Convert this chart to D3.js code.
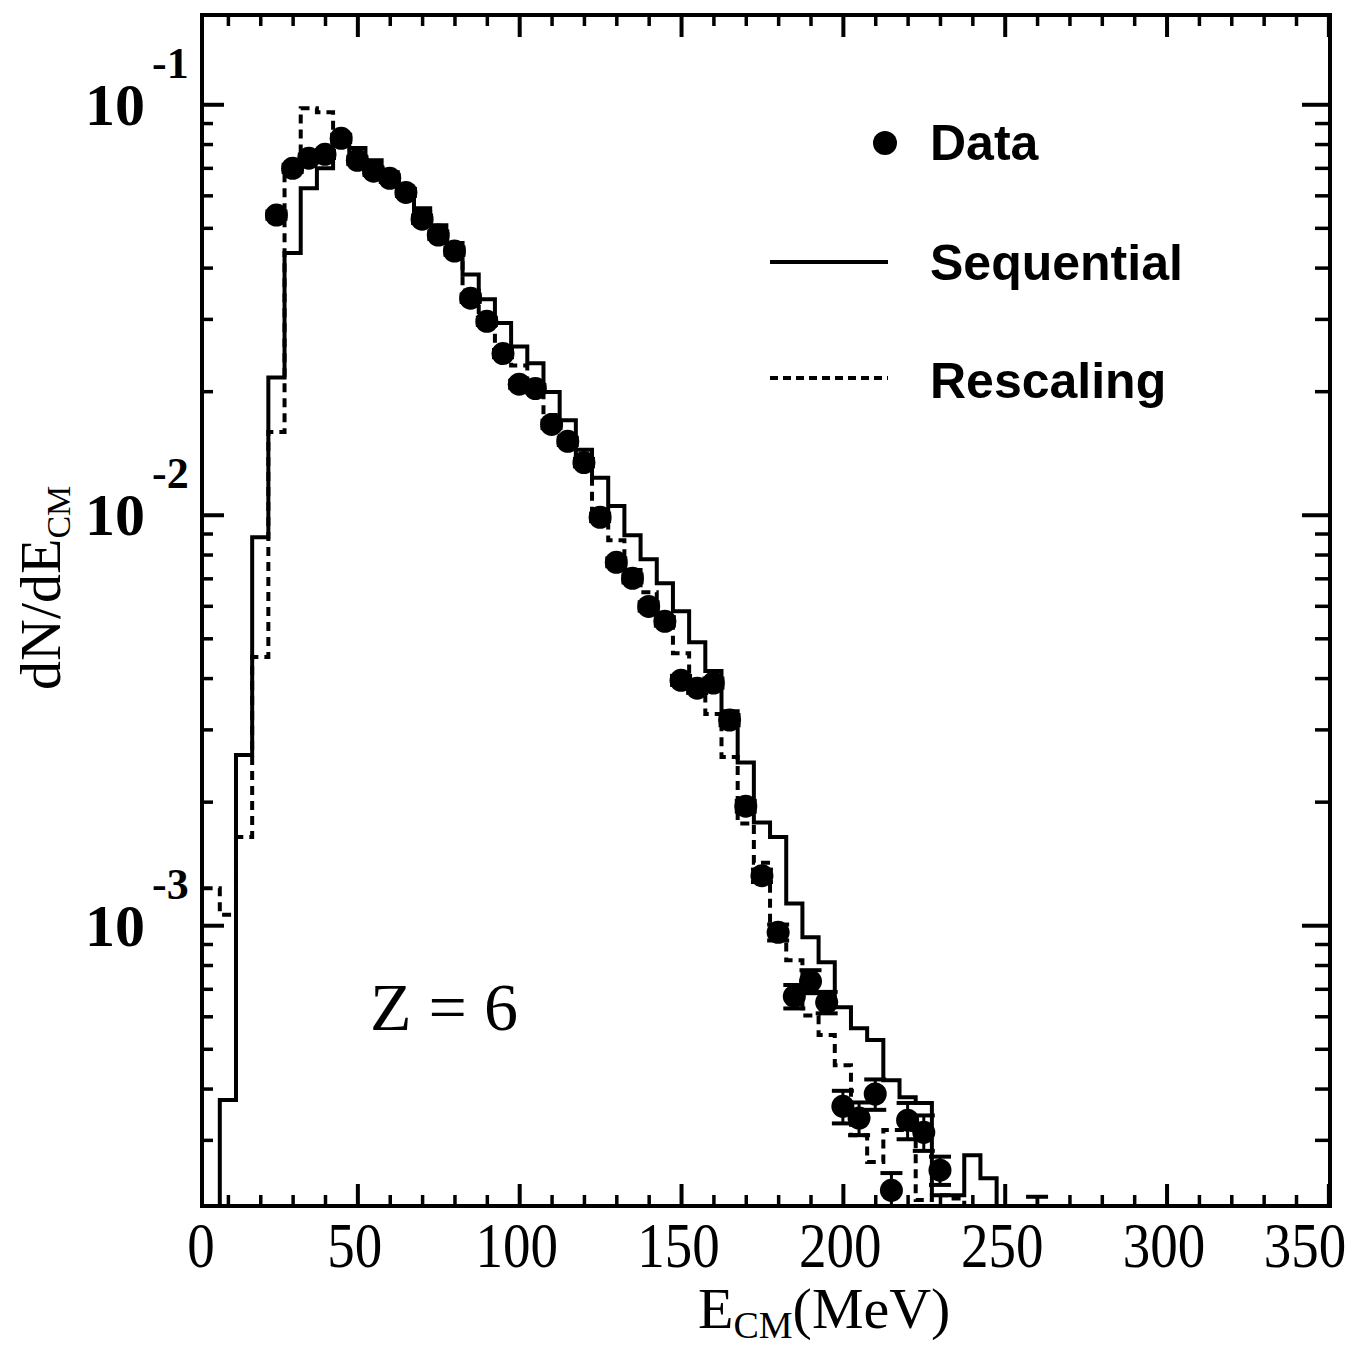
<!DOCTYPE html>
<html>
<head>
<meta charset="utf-8">
<script src="https://cdn.jsdelivr.net/npm/d3@7"></script>
<style>
  body { margin: 0; background: #fff; }
  svg { display: block; }
  .tick line { stroke: #000; }
</style>
</head>
<body>
<svg id="chart"></svg>
<script>
// 5 MeV bins, centres 5 .. 255
const binWidth = 5;
const binCenters = [5,10,15,20,25,30,35,40,45,50,55,60,65,70,75,80,85,90,95,100,
  105,110,115,120,125,130,135,140,145,150,155,160,165,170,175,180,185,190,195,200,
  205,210,215,220,225,230,235,240,245,250,255];

// Sequential (solid histogram), 0 = empty bin
const sequential = [0,3.75e-4,2.60e-3,8.81e-3,0.0216,0.0434,0.0624,0.0698,0.0804,0.0782,
  0.0731,0.0683,0.0617,0.0558,0.0507,0.0459,0.0385,0.0335,0.0293,0.0257,
  0.0234,0.0199,0.0170,0.0144,0.0123,0.0105,0.00891,0.00779,0.00681,0.00582,
  0.00489,0.00416,0.00332,0.00249,0.00178,0.00164,0.00113,9.35e-4,8.13e-4,6.31e-4,
  5.61e-4,5.25e-4,4.19e-4,3.81e-4,3.69e-4,2.20e-4,2.20e-4,2.75e-4,2.42e-4,0,0];

// Rescaling (dashed histogram)
const rescaling = [0.00123,0.00106,0.00164,0.00450,0.0159,0.0710,0.0978,0.0956,0.0795,0.0739,
  0.0698,0.0660,0.0611,0.0546,0.0488,0.0441,0.0352,0.0301,0.0259,0.0231,
  0.0201,0.0175,0.0152,0.0132,0.0103,0.00867,0.00733,0.00647,0.00553,0.00460,
  0.00374,0.00327,0.00257,0.00177,0.00142,9.45e-4,8.22e-4,6.03e-4,5.40e-4,4.56e-4,
  3.08e-4,2.65e-4,3.17e-4,3.17e-4,2.14e-4,2.20e-4,2.16e-4,0,0,0,0];

// Data points
const dataE = [25,30,35,40,45,50,55,60,65,70,75,80,85,90,95,100,105,110,115,120,
  125,130,135,140,145,150,155,160,165,170,175,180,185,190,195,200,205,210,215,220,
  225,230,260];
const dataY = [0.0537,0.0698,0.0739,0.0755,0.0826,0.0730,0.0687,0.0660,0.0610,0.0525,
  0.0480,0.0439,0.0337,0.0296,0.0247,0.0208,0.0203,0.0166,0.0151,0.0134,
  0.00986,0.00766,0.00700,0.00598,0.00550,0.00395,0.00378,0.00389,0.00316,0.00195,
  0.00132,9.61e-4,6.71e-4,7.30e-4,6.49e-4,3.62e-4,3.39e-4,3.88e-4,2.26e-4,3.35e-4,
  3.13e-4,2.53e-4,1.2e-4];
const dataErr = [0.0011,0.0014,0.0015,0.0015,0.0017,0.0015,0.0014,0.0013,0.0012,0.0011,
  0.0010,0.0009,0.0007,0.0006,0.0005,0.00042,0.00041,0.00034,0.00031,0.00028,
  0.00021,0.00017,0.00016,0.00014,0.00013,0.0001,0.0001,0.0001,0.00009,5.9e-5,
  4.6e-5,4.3e-5,4.4e-5,4.7e-5,3.9e-5,3.3e-5,3.1e-5,3.3e-5,2.3e-5,3.4e-5,
  3.1e-5,2.0e-5,9.8e-5];

const xTicks = [0,50,100,150,200,250,300,350];
const yTicks = [1e-1,1e-2,1e-3];
const yTickExp = ["-1","-2","-3"];

const W = 1370, H = 1351;
const pLeft = 202, pRight = 1330, pTop = 15, pBottom = 1206;
const serif = "'Liberation Serif', 'Times New Roman', serif";

const svg = d3.select("#chart").attr("width", W).attr("height", H)
  .style("font-family", serif);

const x = d3.scaleLinear().domain([2, 350.5]).range([pLeft, pRight]);
const y = d3.scaleLog().domain([2.07e-4, 0.165]).range([pBottom, pTop]);
const yc = y.copy().clamp(true);

svg.append("defs").append("clipPath").attr("id", "plotclip")
  .append("rect").attr("x", pLeft).attr("y", pTop)
  .attr("width", pRight - pLeft).attr("height", pBottom - pTop);

// minor tick values
const xMinor = d3.range(10, 351, 10).filter(v => v % 50 !== 0);
const yMinor = [];
[1e-4, 1e-3, 1e-2, 1e-1].forEach(dec => {
  for (let k = 2; k <= 9; k++) {
    const v = k * dec;
    if (v >= y.domain()[0] && v <= y.domain()[1]) yMinor.push(v);
  }
});

function cleanAxis(g, width) {
  g.select(".domain").remove();
  g.selectAll(".tick line").attr("stroke-width", width);
}

// bottom axis
const gxB = svg.append("g").attr("transform", `translate(0,${pBottom})`)
  .call(d3.axisBottom(x).tickValues(xTicks).tickSize(-22).tickPadding(16).tickFormat(d3.format("d")));
cleanAxis(gxB, 4);
gxB.selectAll(".tick").filter(d => d < x.domain()[0]).select("line").remove();
gxB.selectAll(".tick text")
  .attr("font-size", 64)
  .attr("font-family", serif)
  .attr("fill", "#000")
  .attr("textLength", d => String(d).length * 27.5)
  .attr("lengthAdjust", "spacingAndGlyphs")
  .attr("dx", d => d === 0 ? 5 : (d === 350 ? -24 : -3));
svg.append("g").attr("transform", `translate(0,${pBottom})`)
  .call(d3.axisBottom(x).tickValues(xMinor).tickSize(-11).tickFormat(""))
  .call(g => cleanAxis(g, 3.5));

// top axis
const gxT = svg.append("g").attr("transform", `translate(0,${pTop})`)
  .call(d3.axisTop(x).tickValues(xTicks.filter(v => v >= x.domain()[0])).tickSize(-22).tickFormat(""));
cleanAxis(gxT, 4);
svg.append("g").attr("transform", `translate(0,${pTop})`)
  .call(d3.axisTop(x).tickValues(xMinor).tickSize(-11).tickFormat(""))
  .call(g => cleanAxis(g, 3.5));

// left axis
const gyL = svg.append("g").attr("transform", `translate(${pLeft},0)`)
  .call(d3.axisLeft(y).tickValues(yTicks).tickSize(-22).tickFormat(""));
cleanAxis(gyL, 4);
gyL.selectAll(".tick").each(function(d, i) {
  const t = d3.select(this);
  t.append("text")
    .attr("x", 145 - pLeft).attr("y", 20)
    .attr("text-anchor", "end")
    .attr("font-family", serif)
    .attr("font-size", 60).attr("font-weight", "bold")
    .attr("fill", "#000")
    .text("10");
  t.append("text")
    .attr("x", 152 - pLeft).attr("y", -27)
    .attr("text-anchor", "start")
    .attr("font-family", serif)
    .attr("font-size", 44).attr("font-weight", "bold")
    .attr("fill", "#000")
    .text(yTickExp[i]);
});
svg.append("g").attr("transform", `translate(${pLeft},0)`)
  .call(d3.axisLeft(y).tickValues(yMinor).tickSize(-11).tickFormat(""))
  .call(g => cleanAxis(g, 3.5));

// right axis
svg.append("g").attr("transform", `translate(${pRight},0)`)
  .call(d3.axisRight(y).tickValues(yTicks).tickSize(-28).tickFormat(""))
  .call(g => cleanAxis(g, 4));
svg.append("g").attr("transform", `translate(${pRight},0)`)
  .call(d3.axisRight(y).tickValues(yMinor).tickSize(-15).tickFormat(""))
  .call(g => cleanAxis(g, 3.5));

// histograms
function steps(vals) {
  const pts = [];
  binCenters.forEach((e, i) => {
    pts.push([e - binWidth / 2, vals[i]]);
    pts.push([e + binWidth / 2, vals[i]]);
  });
  return pts;
}
const stepLine = d3.line().x(d => x(d[0])).y(d => yc(d[1]));

const plot = svg.append("g").attr("clip-path", "url(#plotclip)");

plot.append("path")
  .attr("d", stepLine(steps(rescaling)))
  .attr("fill", "none").attr("stroke", "#000")
  .attr("stroke-width", 4).attr("stroke-dasharray", "9,6");

plot.append("path")
  .attr("d", stepLine(steps(sequential)))
  .attr("fill", "none").attr("stroke", "#000")
  .attr("stroke-width", 4);

// data with error bars
const pts = dataE.map((e, i) => ({ e: e, v: dataY[i], err: dataErr[i] }));
const bars = plot.selectAll(".err").data(pts).enter().append("g").attr("class", "err");
bars.append("line")
  .attr("x1", d => x(d.e)).attr("x2", d => x(d.e))
  .attr("y1", d => y(d.v + d.err))
  .attr("y2", d => d.v - d.err > 0 ? y(d.v - d.err) : pBottom + 20)
  .attr("stroke", "#000").attr("stroke-width", 3);
bars.append("line")
  .attr("x1", d => x(d.e) - 11).attr("x2", d => x(d.e) + 11)
  .attr("y1", d => y(d.v + d.err)).attr("y2", d => y(d.v + d.err))
  .attr("stroke", "#000").attr("stroke-width", 4);
bars.filter(d => d.v - d.err > 0).append("line")
  .attr("x1", d => x(d.e) - 11).attr("x2", d => x(d.e) + 11)
  .attr("y1", d => y(d.v - d.err)).attr("y2", d => y(d.v - d.err))
  .attr("stroke", "#000").attr("stroke-width", 4);

plot.selectAll(".pt").data(pts).enter().append("circle")
  .attr("class", "pt")
  .attr("cx", d => x(d.e)).attr("cy", d => y(d.v))
  .attr("r", 11.5).attr("fill", "#000");

// frame
svg.append("rect")
  .attr("x", pLeft).attr("y", pTop)
  .attr("width", pRight - pLeft).attr("height", pBottom - pTop)
  .attr("fill", "none").attr("stroke", "#000").attr("stroke-width", 4);

// legend
const lg = svg.append("g")
  .style("font-family", "'Liberation Sans', Arial, sans-serif")
  .style("font-weight", "bold");
lg.append("circle").attr("cx", 885).attr("cy", 143).attr("r", 12).attr("fill", "#000");
lg.append("text").attr("x", 930).attr("y", 160).attr("font-size", 50).text("Data");
lg.append("line").attr("x1", 770).attr("x2", 888).attr("y1", 262).attr("y2", 262)
  .attr("stroke", "#000").attr("stroke-width", 4);
lg.append("text").attr("x", 930).attr("y", 280).attr("font-size", 50).text("Sequential");
lg.append("line").attr("x1", 770).attr("x2", 888).attr("y1", 378).attr("y2", 378)
  .attr("stroke", "#000").attr("stroke-width", 4).attr("stroke-dasharray", "8,5");
lg.append("text").attr("x", 930).attr("y", 398).attr("font-size", 50).text("Rescaling");

// Z label
svg.append("text").attr("x", 370).attr("y", 1030)
  .attr("font-size", 68).text("Z = 6");

// axis titles
const xt = svg.append("text").attr("x", 698).attr("y", 1328).attr("font-size", 58);
xt.append("tspan").text("E");
xt.append("tspan").attr("font-size", 38).attr("dy", 10).text("CM");
xt.append("tspan").attr("dy", -10).text("(MeV)");

const yt = svg.append("text")
  .attr("transform", "translate(60,690) rotate(-90)")
  .attr("font-size", 58);
yt.append("tspan").text("dN/dE");
yt.append("tspan").attr("font-size", 34).attr("dy", 10).text("CM");
</script>
</body>
</html>
